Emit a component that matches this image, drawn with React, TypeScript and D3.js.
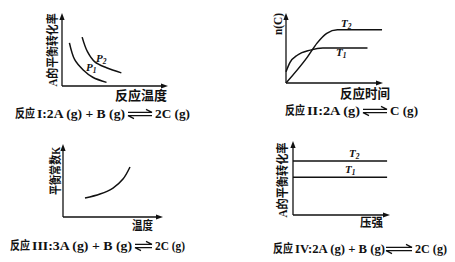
import React from "react";
import * as d3 from "d3";

// ---- data ----
const p1Series = ["P1", "P2"];
const p1CurveP1: [number, number][] = [[7, 59], [12, 36], [20, 22], [29, 12], [42, 5]];
const p1CurveP2: [number, number][] = [[19, 67], [24, 47], [31, 33], [42, 25], [56, 18]];

const p2Series = ["T1", "T2"];
const p2CurveT2: [number, number][] = [[0, 0], [22, 37], [32, 57], [42, 71], [53, 76], [70, 76], [99, 76]];
const p2CurveT1: [number, number][] = [[0, 16], [4, 29], [12, 40], [25, 47], [38, 50], [60, 50], [84, 50]];

const p3Curve: [number, number][] = [[22, 26], [37, 31.5], [50, 39.7], [60, 52], [67, 68.5]];

const p4Series = ["T1", "T2"];
const p4LevelT1 = 51;
const p4LevelT2 = 73;
const p4XRange = [0, 97];

const axisLabels = {
  p1y: "A的平衡转化率", p1x: "反应温度",
  p2y: "n(C)", p2x: "反应时间",
  p3y: "平衡常数K", p3x: "温度",
  p4y: "A的平衡转化率", p4x: "压强",
};
const captionLeft = ["I:2A (g) + B (g)", "II:2A (g)", "III:3A (g) + B (g)", "IV:2A (g) + B (g)"];
const captionRight = ["2C (g)", "C (g)", "2C (g)", "2C (g)"];
const captionPrefix = "反应";

const FONT = "'Liberation Serif', 'Noto Sans CJK SC', serif";

type Box = { x0: number; x1: number; yb: number; yt: number };

function mkScales(b: Box) {
  const x = d3.scaleLinear().domain([0, 100]).range([b.x0, b.x1]);
  const y = d3.scaleLinear().domain([0, 100]).range([b.yb, b.yt]);
  return { x, y };
}

function Axes({ b }: { b: Box }) {
  const ah = 7, aw = 2.6;
  return (
    <g stroke="#111" fill="#111">
      <line x1={b.x0} y1={b.yb} x2={b.x0} y2={b.yt + 3} strokeWidth={1.3} />
      <line x1={b.x0} y1={b.yb} x2={b.x1 - 3} y2={b.yb} strokeWidth={1.3} />
      <path d={`M${b.x0},${b.yt} L${b.x0 - aw},${b.yt + ah} L${b.x0 + aw},${b.yt + ah} Z`} stroke="none" />
      <path d={`M${b.x1},${b.yb} L${b.x1 - ah},${b.yb - aw} L${b.x1 - ah},${b.yb + aw} Z`} stroke="none" />
    </g>
  );
}

function T({ x, y, len, size = 12, children, anchor = "start" }: any) {
  return (
    <text x={x} y={y} fontFamily={FONT} fontWeight="bold" fontSize={size} textLength={len}
      lengthAdjust="spacingAndGlyphs" textAnchor={anchor} dominantBaseline="central" fill="#111">
      {children}
    </text>
  );
}

function VT({ cx, cy, len, size = 12, children }: any) {
  return (
    <text transform={`translate(${cx},${cy}) rotate(-90)`} fontFamily={FONT} fontWeight="bold" fontSize={size}
      textLength={len} lengthAdjust="spacingAndGlyphs" textAnchor="middle" dominantBaseline="central" fill="#111">
      {children}
    </text>
  );
}

function Sub({ x, y, name }: { x: number; y: number; name: string }) {
  return (
    <text x={x} y={y} fontFamily="'Liberation Serif', serif" fontStyle="italic" fontWeight="bold" fontSize={11} fill="#111">
      {name[0]}
      <tspan fontSize={7.5} dy={2}>{name.slice(1)}</tspan>
    </text>
  );
}

function Eq({ x1, x2, yc }: { x1: number; x2: number; yc: number }) {
  const g = 1.6;
  return (
    <g stroke="#111" strokeWidth={1.2} fill="none">
      <path d={`M${x1},${yc - g} L${x2},${yc - g} L${x2 - 6},${yc - g - 3}`} />
      <path d={`M${x2},${yc + g} L${x1},${yc + g} L${x1 + 6},${yc + g + 3}`} />
    </g>
  );
}

function Caption({ i, px, pEnd, lEnd, a1, a2, rEnd, yc }: any) {
  return (
    <g>
      <T x={px} y={yc} len={pEnd - px}>{captionPrefix}</T>
      <T x={pEnd + 2} y={yc} len={lEnd - pEnd - 2}>{captionLeft[i]}</T>
      <Eq x1={a1} x2={a2} yc={yc} />
      <T x={a2 + 3} y={yc} len={rEnd - a2 - 3}>{captionRight[i]}</T>
    </g>
  );
}

export default function App() {
  const b1: Box = { x0: 62, x1: 168, yb: 86, yt: 13 };
  const b2: Box = { x0: 286, x1: 383, yb: 83, yt: 13 };
  const b3: Box = { x0: 63, x1: 163, yb: 217, yt: 144 };
  const b4: Box = { x0: 293, x1: 390, yb: 215, yt: 141 };
  const s1 = mkScales(b1), s2 = mkScales(b2), s3 = mkScales(b3), s4 = mkScales(b4);

  const line1 = d3.line<[number, number]>().x(d => s1.x(d[0])).y(d => s1.y(d[1])).curve(d3.curveCatmullRom);
  const line2 = d3.line<[number, number]>().x(d => s2.x(d[0])).y(d => s2.y(d[1])).curve(d3.curveMonotoneX);
  const line3 = d3.line<[number, number]>().x(d => s3.x(d[0])).y(d => s3.y(d[1])).curve(d3.curveCatmullRom);

  const cs = { stroke: "#111", strokeWidth: 1.5, fill: "none" };

  return (
    <svg width={455} height={262} style={{ position: "fixed", left: 0, top: 0, background: "#fff" }}>
      <rect width={455} height={262} fill="#fff" />
      {/* Panel I */}
      <Axes b={b1} />
      <path d={line1(p1CurveP1) || ""} {...cs} />
      <path d={line1(p1CurveP2) || ""} {...cs} />
      <Sub x={86} y={71} name={p1Series[0]} />
      <Sub x={96} y={62} name={p1Series[1]} />
      <VT cx={52.5} cy={50} len={73}>{axisLabels.p1y}</VT>
      <T x={115} y={95} len={52} size={13}>{axisLabels.p1x}</T>
      <Caption i={0} px={15} pEnd={35} lEnd={125} a1={128} a2={152} rEnd={190} yc={114} />

      {/* Panel II */}
      <Axes b={b2} />
      <path d={line2(p2CurveT2) || ""} {...cs} />
      <path d={line2(p2CurveT1) || ""} {...cs} />
      <Sub x={341} y={27} name={p2Series[1]} />
      <Sub x={336} y={56} name={p2Series[0]} />
      <VT cx={278} cy={24} len={22}>{axisLabels.p2y}</VT>
      <T x={340} y={93} len={50} size={13}>{axisLabels.p2x}</T>
      <Caption i={1} px={285} pEnd={305} lEnd={360} a1={363} a2={387} rEnd={418} yc={111} />

      {/* Panel III */}
      <Axes b={b3} />
      <path d={line3(p3Curve) || ""} {...cs} />
      <VT cx={55.5} cy={171} len={48}>{axisLabels.p3y}</VT>
      <T x={132} y={226} len={21} size={12}>{axisLabels.p3x}</T>
      <Caption i={2} px={10} pEnd={30} lEnd={132} a1={135} a2={152} rEnd={185} yc={246} />

      {/* Panel IV */}
      <Axes b={b4} />
      <line x1={s4.x(p4XRange[0])} x2={s4.x(p4XRange[1])} y1={s4.y(p4LevelT2)} y2={s4.y(p4LevelT2)} {...cs} />
      <line x1={s4.x(p4XRange[0])} x2={s4.x(p4XRange[1])} y1={s4.y(p4LevelT1)} y2={s4.y(p4LevelT1)} {...cs} />
      <Sub x={349} y={157} name={p4Series[1]} />
      <Sub x={345} y={173} name={p4Series[0]} />
      <VT cx={283} cy={180} len={75}>{axisLabels.p4y}</VT>
      <T x={360} y={223} len={23} size={12}>{axisLabels.p4x}</T>
      <Caption i={3} px={273} pEnd={293} lEnd={385} a1={386} a2={412} rEnd={447} yc={249} />
    </svg>
  );
}
